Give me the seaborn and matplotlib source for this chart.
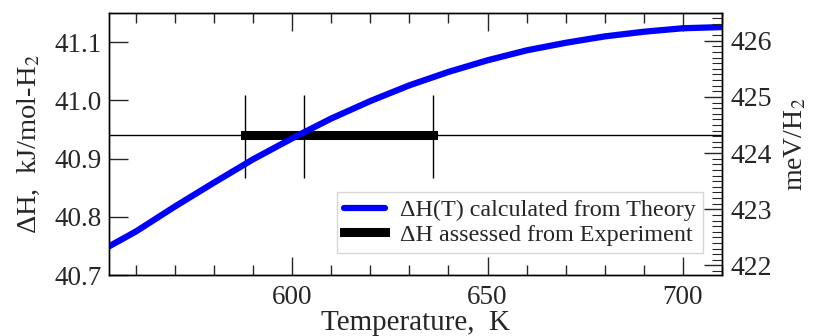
import numpy as np
import pandas as pd
import matplotlib
matplotlib.use("Agg")
import matplotlib.pyplot as plt
from matplotlib.ticker import MultipleLocator, FormatStrFormatter
import seaborn as sns

# values
temperature = [553, 560, 570, 580, 590, 600, 610, 620, 630, 640,
               650, 660, 670, 680, 690, 700, 710]
dH_theory = [40.749, 40.775, 40.818, 40.859, 40.899, 40.935, 40.969, 40.999,
             41.026, 41.049, 41.069, 41.086, 41.099, 41.110, 41.118, 41.124,
             41.126]
dH_exp = 40.94
exp_T_range = [588, 636]
exp_marks = [588, 603, 636]
exp_marks_span = [40.867, 41.01]

KJ_TO_MEV = 10.3643  # kJ/mol -> meV per molecule

sns.set_style("ticks")
plt.rcParams["font.family"] = ["Liberation Serif", "DejaVu Serif"]
plt.rcParams["mathtext.fontset"] = "stix"

df = pd.DataFrame({"T": temperature, "dH": dH_theory})

fig = plt.figure(figsize=(8.13, 3.36), dpi=100)
ax = fig.add_axes([0.134, 0.181, 0.754, 0.78])

sns.lineplot(data=df, x="T", y="dH", ax=ax, color="#0000ff", linewidth=4.5,
             label=r"ΔH(T) calculated from Theory", zorder=3)
ax.axhline(dH_exp, color="black", linewidth=1, zorder=1)
ax.plot(exp_T_range, [dH_exp, dH_exp], color="black", linewidth=6.5,
        solid_capstyle="projecting", label="ΔH assessed from Experiment",
        zorder=2)
ax.vlines(exp_marks, exp_marks_span[0], exp_marks_span[1], color="black",
          linewidth=1, zorder=1)

ax.set_xlim(553.1, 710)
ax.set_ylim(40.7, 41.15)
ax.xaxis.set_major_locator(MultipleLocator(50))
ax.xaxis.set_minor_locator(MultipleLocator(10))
ax.yaxis.set_major_locator(MultipleLocator(0.1))
ax.yaxis.set_major_formatter(FormatStrFormatter("%.1f"))
ax.tick_params(axis="x", which="both", direction="in", top=True, bottom=True,
               labelsize=19.5, pad=7)
ax.tick_params(axis="x", which="major", length=13, width=1)
ax.tick_params(axis="x", which="minor", length=7, width=1)
ax.tick_params(axis="y", which="major", direction="in", length=13.5, width=1,
               labelsize=19.5, right=False, pad=5)
ax.set_xlabel("Temperature,  K", fontsize=21, labelpad=0)
ax.set_ylabel(r"ΔH,  kJ/mol-H$_2$", fontsize=20.5, labelpad=9)

ax2 = ax.twinx()
ax2.set_ylim(40.7 * KJ_TO_MEV, 41.15 * KJ_TO_MEV)
ax2.yaxis.set_major_locator(MultipleLocator(1))
ax2.yaxis.set_minor_locator(MultipleLocator(0.1))
ax2.tick_params(axis="y", which="both", direction="in", labelsize=20, pad=6)
ax2.tick_params(axis="y", which="major", length=13, width=1)
ax2.tick_params(axis="y", which="minor", length=7, width=0.8)
ax2.set_ylabel(r"meV/H$_2$", fontsize=20, labelpad=8)

for a in (ax, ax2):
    for s in a.spines.values():
        s.set_linewidth(1)
        s.set_color("black")

leg = ax.legend(loc="lower right", bbox_to_anchor=(0.969, 0.084), fontsize=17.4,
                frameon=True, fancybox=False, edgecolor="#cccccc",
                handlelength=1.7, borderpad=0.3, labelspacing=0.12,
                handletextpad=0.6, borderaxespad=0)
leg.get_frame().set_linewidth(1)

fig.savefig("out.png", dpi=100)
